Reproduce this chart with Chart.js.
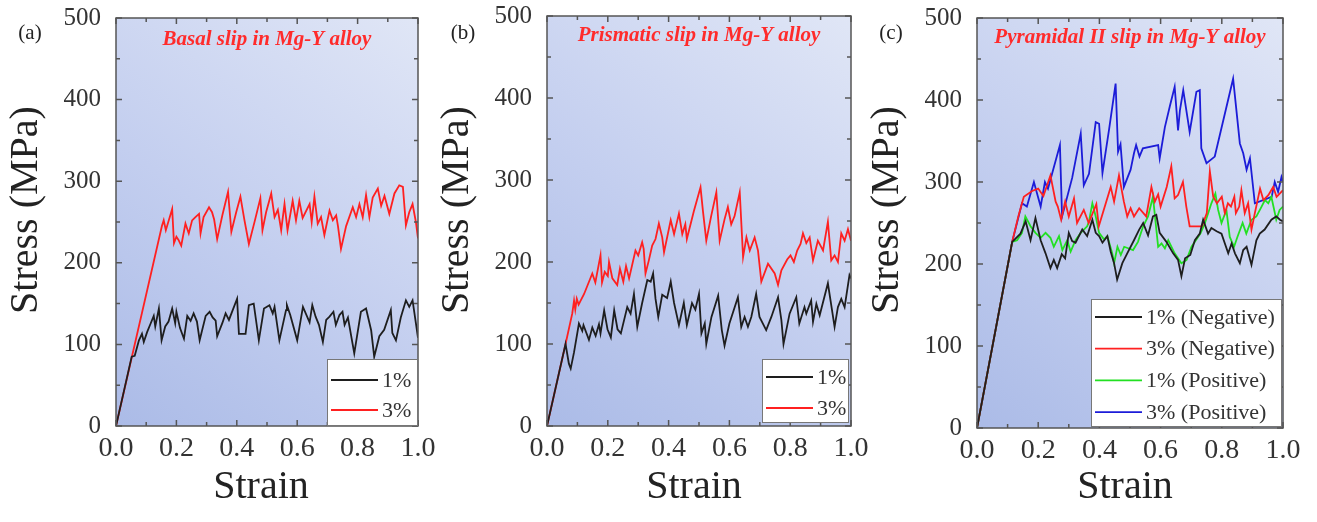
<!DOCTYPE html>
<html>
<head>
<meta charset="utf-8">
<script src="https://cdn.jsdelivr.net/npm/chart.js@4.4.0/dist/chart.umd.min.js"></script>
<style>
    html, body { margin: 0; padding: 0; background: #fff; }
    #wrap { position: relative; width: 1317px; height: 522px; overflow: hidden; }
    canvas { position: absolute; top: 0; }
</style>
</head>
<body>
<div id="wrap">
    <canvas id="chart_a" width="440" height="522" style="left:0px"></canvas>
    <canvas id="chart_b" width="439" height="522" style="left:431px"></canvas>
    <canvas id="chart_c" width="456" height="522" style="left:861px"></canvas>
</div>
<script>
// tick values
let strain_ticks = [0, 0.2, 0.4, 0.6, 0.8, 1.0];
let strain_minor = [0.1, 0.3, 0.5, 0.7, 0.9];
let stress_ticks = [0, 100, 200, 300, 400, 500];
let stress_minor = [50, 150, 250, 350, 450];

// (a) basal slip
let basal_strain_1 = [0, 0.052, 0.062, 0.076, 0.086, 0.092, 0.103, 0.114, 0.125, 0.13, 0.142, 0.151, 0.163, 0.174, 0.186, 0.196, 0.2, 0.212, 0.225, 0.236, 0.247, 0.257, 0.268, 0.277, 0.297, 0.31, 0.32, 0.33, 0.335, 0.352, 0.363, 0.374, 0.401, 0.407, 0.429, 0.44, 0.456, 0.473, 0.49, 0.508, 0.519, 0.525, 0.541, 0.563, 0.566, 0.577, 0.6, 0.619, 0.641, 0.65, 0.661, 0.672, 0.685, 0.696, 0.707, 0.72, 0.728, 0.74, 0.75, 0.757, 0.768, 0.789, 0.811, 0.828, 0.845, 0.855, 0.872, 0.888, 0.91, 0.915, 0.927, 0.943, 0.96, 0.971, 0.982, 0.993, 1.0];
let basal_stress_1 = [0, 85, 86, 105, 113, 103, 115, 125, 135, 122, 144, 105, 122, 128, 144, 126, 140, 120, 107, 135, 129, 138, 128, 105, 135, 140, 133, 129, 110, 126, 138, 130, 156, 113, 113, 148, 150, 105, 144, 148, 138, 146, 105, 142, 148, 136, 105, 146, 127, 148, 134, 124, 103, 130, 134, 140, 124, 136, 140, 124, 133, 89, 140, 144, 117, 85, 110, 118, 142, 114, 105, 133, 154, 146, 154, 126, 108];
let basal_strain_3 = [0, 0.152, 0.158, 0.165, 0.186, 0.192, 0.2, 0.207, 0.216, 0.23, 0.241, 0.252, 0.263, 0.275, 0.28, 0.29, 0.308, 0.318, 0.325, 0.335, 0.352, 0.371, 0.382, 0.398, 0.412, 0.425, 0.44, 0.46, 0.478, 0.485, 0.497, 0.514, 0.525, 0.536, 0.547, 0.558, 0.568, 0.585, 0.596, 0.607, 0.618, 0.641, 0.648, 0.657, 0.668, 0.679, 0.69, 0.707, 0.718, 0.729, 0.735, 0.745, 0.762, 0.784, 0.795, 0.806, 0.817, 0.828, 0.839, 0.85, 0.867, 0.878, 0.889, 0.905, 0.922, 0.938, 0.95, 0.96, 0.971, 0.982, 0.993, 1.0];
let basal_stress_3 = [0, 245, 252, 240, 266, 224, 232, 228, 221, 248, 236, 252, 256, 260, 236, 256, 268, 262, 253, 229, 258, 287, 238, 262, 281, 253, 223, 252, 279, 240, 262, 285, 256, 265, 240, 272, 240, 276, 252, 276, 255, 272, 250, 281, 248, 256, 234, 264, 252, 258, 245, 217, 245, 268, 256, 272, 256, 283, 256, 280, 291, 270, 282, 260, 285, 295, 293, 246, 262, 272, 250, 230];

// (b) prismatic slip
let prism_strain_1 = [0, 0.061, 0.072, 0.078, 0.089, 0.105, 0.116, 0.12, 0.138, 0.149, 0.16, 0.171, 0.176, 0.188, 0.199, 0.21, 0.221, 0.232, 0.243, 0.264, 0.275, 0.286, 0.297, 0.313, 0.33, 0.341, 0.349, 0.357, 0.366, 0.379, 0.395, 0.407, 0.418, 0.434, 0.45, 0.46, 0.477, 0.488, 0.5, 0.508, 0.519, 0.524, 0.541, 0.563, 0.575, 0.584, 0.6, 0.628, 0.639, 0.65, 0.661, 0.672, 0.688, 0.699, 0.721, 0.738, 0.76, 0.771, 0.778, 0.798, 0.82, 0.83, 0.847, 0.853, 0.869, 0.875, 0.886, 0.897, 0.924, 0.946, 0.957, 0.968, 0.979, 0.995, 1.0];
let prism_stress_1 = [0, 100, 76, 70, 90, 125, 116, 123, 105, 120, 110, 124, 113, 141, 118, 108, 141, 118, 113, 145, 137, 161, 121, 150, 178, 176, 186, 155, 133, 160, 156, 176, 150, 123, 150, 123, 150, 142, 161, 113, 125, 100, 133, 159, 117, 98, 125, 157, 121, 133, 121, 133, 161, 133, 117, 133, 157, 129, 100, 137, 157, 125, 145, 137, 153, 127, 149, 135, 174, 121, 145, 155, 145, 184, 180];
let prism_strain_3 = [0, 0.061, 0.083, 0.089, 0.093, 0.098, 0.104, 0.122, 0.149, 0.159, 0.176, 0.181, 0.19, 0.2, 0.204, 0.215, 0.231, 0.24, 0.251, 0.26, 0.27, 0.291, 0.3, 0.313, 0.318, 0.324, 0.335, 0.346, 0.357, 0.368, 0.379, 0.385, 0.407, 0.418, 0.434, 0.445, 0.455, 0.46, 0.483, 0.505, 0.513, 0.524, 0.54, 0.557, 0.568, 0.584, 0.595, 0.606, 0.617, 0.634, 0.645, 0.656, 0.667, 0.683, 0.694, 0.705, 0.727, 0.749, 0.76, 0.771, 0.79, 0.801, 0.812, 0.823, 0.834, 0.842, 0.853, 0.864, 0.875, 0.891, 0.908, 0.924, 0.935, 0.946, 0.957, 0.968, 0.979, 0.99, 1.0];
let prism_stress_3 = [0, 100, 137, 153, 142, 155, 148, 161, 186, 175, 208, 175, 188, 183, 200, 180, 172, 192, 176, 195, 180, 214, 208, 224, 216, 186, 202, 220, 228, 247, 230, 212, 251, 234, 259, 234, 246, 228, 262, 291, 262, 226, 256, 285, 226, 252, 267, 246, 256, 285, 206, 230, 214, 230, 214, 176, 198, 186, 172, 190, 203, 208, 200, 214, 222, 235, 223, 230, 202, 226, 214, 249, 202, 208, 200, 235, 226, 240, 226];

// (c) pyramidal II slip
let pyr_strain_1n = [0, 0.115, 0.142, 0.159, 0.175, 0.191, 0.208, 0.224, 0.24, 0.251, 0.262, 0.277, 0.288, 0.3, 0.311, 0.322, 0.344, 0.36, 0.377, 0.388, 0.399, 0.41, 0.426, 0.437, 0.448, 0.458, 0.475, 0.491, 0.513, 0.53, 0.543, 0.559, 0.575, 0.586, 0.597, 0.619, 0.641, 0.657, 0.668, 0.68, 0.697, 0.712, 0.728, 0.739, 0.755, 0.766, 0.783, 0.799, 0.821, 0.832, 0.843, 0.859, 0.87, 0.881, 0.897, 0.913, 0.924, 0.94, 0.962, 0.978, 0.99, 1.0];
let pyr_stress_1n = [0, 227, 237, 252, 229, 256, 229, 213, 195, 205, 195, 212, 207, 238, 228, 226, 242, 234, 254, 238, 234, 226, 234, 215, 201, 181, 201, 213, 229, 242, 250, 235, 258, 260, 238, 227, 213, 205, 185, 207, 211, 229, 237, 254, 237, 244, 240, 237, 213, 225, 213, 201, 217, 221, 199, 229, 237, 242, 254, 258, 254, 252];
let pyr_strain_3n = [0, 0.115, 0.135, 0.153, 0.18, 0.2, 0.217, 0.24, 0.257, 0.264, 0.275, 0.288, 0.3, 0.317, 0.327, 0.349, 0.365, 0.39, 0.398, 0.437, 0.448, 0.464, 0.48, 0.491, 0.502, 0.513, 0.53, 0.553, 0.57, 0.581, 0.592, 0.6, 0.62, 0.635, 0.646, 0.657, 0.673, 0.684, 0.695, 0.735, 0.751, 0.761, 0.772, 0.784, 0.8, 0.81, 0.82, 0.83, 0.841, 0.846, 0.857, 0.864, 0.875, 0.886, 0.897, 0.908, 0.925, 0.936, 0.952, 0.968, 0.979, 1.0];
let pyr_stress_3n = [0, 227, 258, 282, 289, 292, 283, 308, 276, 270, 254, 276, 258, 280, 250, 266, 250, 273, 246, 294, 276, 308, 276, 258, 268, 258, 268, 258, 294, 276, 285, 270, 294, 319, 280, 284, 300, 270, 246, 246, 262, 313, 282, 274, 282, 262, 274, 270, 282, 262, 270, 290, 262, 274, 242, 262, 292, 278, 284, 294, 282, 290];
let pyr_strain_1p = [0, 0.115, 0.131, 0.147, 0.158, 0.175, 0.191, 0.208, 0.224, 0.24, 0.251, 0.268, 0.279, 0.295, 0.306, 0.322, 0.339, 0.36, 0.366, 0.377, 0.388, 0.399, 0.415, 0.426, 0.442, 0.448, 0.459, 0.47, 0.481, 0.51, 0.526, 0.543, 0.559, 0.575, 0.592, 0.603, 0.614, 0.625, 0.646, 0.668, 0.685, 0.701, 0.73, 0.745, 0.766, 0.779, 0.788, 0.799, 0.815, 0.826, 0.84, 0.851, 0.868, 0.88, 0.897, 0.913, 0.93, 0.941, 0.952, 0.962, 0.978, 0.989, 1.0];
let pyr_stress_1p = [0, 227, 229, 238, 258, 246, 238, 232, 238, 232, 221, 234, 217, 229, 215, 229, 238, 246, 252, 274, 258, 238, 230, 234, 213, 201, 221, 211, 221, 217, 227, 246, 258, 282, 221, 225, 219, 229, 213, 201, 205, 221, 237, 250, 274, 286, 266, 250, 266, 233, 221, 233, 250, 237, 254, 258, 270, 278, 274, 282, 254, 266, 270];
let pyr_strain_3p = [0, 0.115, 0.147, 0.163, 0.186, 0.208, 0.222, 0.232, 0.246, 0.271, 0.278, 0.311, 0.339, 0.349, 0.366, 0.388, 0.399, 0.41, 0.432, 0.453, 0.461, 0.469, 0.48, 0.502, 0.513, 0.52, 0.531, 0.542, 0.592, 0.597, 0.614, 0.63, 0.646, 0.657, 0.663, 0.674, 0.695, 0.717, 0.728, 0.733, 0.75, 0.777, 0.837, 0.859, 0.87, 0.881, 0.892, 0.908, 0.963, 0.973, 0.984, 0.995, 1.0];
let pyr_stress_3p = [0, 227, 274, 270, 300, 270, 300, 292, 311, 345, 258, 305, 359, 296, 310, 373, 371, 311, 365, 420, 337, 346, 294, 315, 335, 345, 331, 341, 345, 329, 367, 392, 416, 363, 387, 412, 361, 410, 412, 341, 323, 331, 426, 347, 335, 315, 329, 274, 282, 300, 288, 306, 300];

function pointsOf(strain, stress) {
    return strain.map((x, i) => ({ x: x, y: stress[i] }));
}

function line(label, strain, stress, color) {
    return {
        label: label,
        data: pointsOf(strain, stress),
        borderColor: color,
        borderWidth: 1.8,
        pointRadius: 0,
        tension: 0,
        fill: false
    };
}

Chart.defaults.font.family = '"Liberation Serif", "Times New Roman", serif';
Chart.defaults.color = '#333';

let bgPlugin = {
    id: 'bg',
    beforeDatasetsDraw(chart) {
        let a = chart.chartArea;
        let ctx = chart.ctx;
        let g = ctx.createLinearGradient(a.left, a.bottom, a.right, a.top);
        g.addColorStop(0, '#abbbe7');
        g.addColorStop(0.45, '#c3ceef');
        g.addColorStop(1, '#e0e6f6');
        ctx.save();
        ctx.fillStyle = g;
        ctx.fillRect(a.left, a.top, a.right - a.left, a.bottom - a.top);
        ctx.restore();
    }
};

// box frame with inward ticks on all four sides
let framePlugin = {
    id: 'frame',
    afterDatasetsDraw(chart) {
        let a = chart.chartArea;
        let ctx = chart.ctx;
        let xs = chart.scales.x;
        let ys = chart.scales.y;
        ctx.save();
        ctx.strokeStyle = '#555';
        ctx.lineWidth = 1.5;
        ctx.beginPath();
        let tick = (vals, len) => {
            vals.forEach(v => {
                let px = xs.getPixelForValue(v);
                ctx.moveTo(px, a.bottom); ctx.lineTo(px, a.bottom - len);
                ctx.moveTo(px, a.top); ctx.lineTo(px, a.top + len);
            });
        };
        let ytick = (vals, len) => {
            vals.forEach(v => {
                let py = ys.getPixelForValue(v);
                ctx.moveTo(a.left, py); ctx.lineTo(a.left + len, py);
                ctx.moveTo(a.right, py); ctx.lineTo(a.right - len, py);
            });
        };
        tick(strain_ticks, 6);
        tick(strain_minor, 4);
        ytick(stress_ticks, 6);
        ytick(stress_minor, 4);
        ctx.stroke();
        ctx.strokeRect(a.left, a.top, a.right - a.left, a.bottom - a.top);
        ctx.restore();
    }
};

// panel letter, red caption and the two axis titles
let notesPlugin = {
    id: 'notes',
    afterDraw(chart, args, opts) {
        let a = chart.chartArea;
        let ctx = chart.ctx;
        ctx.save();
        ctx.textAlign = 'center';
        ctx.textBaseline = 'middle';
        ctx.fillStyle = '#222';
        ctx.font = '21px "Liberation Serif"';
        ctx.fillText(opts.panel, opts.panelX, 33);

        ctx.font = '40px "Liberation Serif"';
        ctx.fillText('Strain', opts.strainX, 487);
        ctx.save();
        ctx.translate(26, 210);
        ctx.rotate(-Math.PI / 2);
        ctx.fillText('Stress (MPa)', 0, 0);
        ctx.restore();

        ctx.fillStyle = '#ff2b2b';
        ctx.font = 'italic bold 21px "Liberation Serif"';
        ctx.fillText(opts.title, (a.left + a.right) / 2, opts.titleY);
        ctx.restore();
    }
};

let boxPlugin = {
    id: 'box',
    afterDraw(chart, args, opts) {
        let a = chart.chartArea;
        let ctx = chart.ctx;
        let x0 = a.right - opts.right - opts.w;
        let y0 = a.bottom - opts.bottom - opts.h;
        ctx.save();
        ctx.fillStyle = '#fff';
        ctx.fillRect(x0, y0, opts.w, opts.h);
        ctx.strokeStyle = '#777';
        ctx.lineWidth = 1;
        ctx.strokeRect(x0 + 0.5, y0 + 0.5, opts.w, opts.h);
        ctx.font = '22px "Liberation Serif"';
        ctx.textBaseline = 'middle';
        ctx.textAlign = 'left';
        chart.data.datasets.forEach((ds, i) => {
            let y = y0 + opts.first + i * opts.gap;
            ctx.strokeStyle = ds.borderColor;
            ctx.lineWidth = 1.8;
            ctx.beginPath();
            ctx.moveTo(x0 + 4, y);
            ctx.lineTo(x0 + 51, y);
            ctx.stroke();
            ctx.fillStyle = '#333';
            ctx.fillText(ds.label, x0 + 55, y + 1);
        });
        ctx.restore();
    }
};

function makePanel(id, datasets, p) {
    let ctx = document.getElementById(id);
    return new Chart(ctx, {
        type: 'line',
        data: { datasets: datasets },
        options: {
            responsive: false,
            animation: false,
            layout: { padding: { left: 0, right: p.padRight, top: p.padTop, bottom: 0 } },
            scales: {
                x: {
                    type: 'linear',
                    min: 0,
                    max: 1,
                    afterBuildTicks: s => { s.ticks = strain_ticks.map(v => ({ value: v })); },
                    afterFit: s => {
                        s.height = p.xHeight;
                        s.paddingLeft = 0;
                        s.paddingRight = 0;
                    },
                    grid: { display: false, drawTicks: false },
                    border: { display: false },
                    ticks: {
                        padding: 6,
                        font: { size: 28 },
                        color: '#333',
                        maxRotation: 0,
                        callback: v => v.toFixed(1)
                    }
                },
                y: {
                    type: 'linear',
                    min: 0,
                    max: 500,
                    afterBuildTicks: s => { s.ticks = stress_ticks.map(v => ({ value: v })); },
                    afterFit: s => {
                        s.width = 116;
                        s.paddingTop = 0;
                        s.paddingBottom = 0;
                    },
                    grid: { display: false, drawTicks: false },
                    border: { display: false },
                    ticks: {
                        padding: 15,
                        font: { size: 25 },
                        color: '#333'
                    }
                }
            },
            plugins: {
                legend: { display: false },
                tooltip: { enabled: false },
                notes: { panel: p.panel, panelX: p.panelX, strainX: p.strainX, title: p.title, titleY: p.titleY },
                box: p.box
            }
        },
        plugins: [bgPlugin, framePlugin, notesPlugin, boxPlugin]
    });
}

makePanel('chart_a', [
    line('1%', basal_strain_1, basal_stress_1, '#1e1e1e'),
    line('3%', basal_strain_3, basal_stress_3, '#ff2020')
], {
    padRight: 22, padTop: 18, xHeight: 96,
    panel: '(a)', panelX: 30, strainX: 261, title: 'Basal slip in Mg-Y alloy', titleY: 40,
    box: { w: 90, h: 66, right: 1, bottom: 1, first: 21, gap: 30 }
});

makePanel('chart_b', [
    line('1%', prism_strain_1, prism_stress_1, '#1e1e1e'),
    line('3%', prism_strain_3, prism_stress_3, '#ff2020')
], {
    padRight: 19, padTop: 16, xHeight: 96,
    panel: '(b)', panelX: 32, strainX: 263, title: 'Prismatic slip in Mg-Y alloy', titleY: 36,
    box: { w: 86, h: 63, right: 3, bottom: 4, first: 18, gap: 31 }
});

makePanel('chart_c', [
    line('1% (Negative)', pyr_strain_1n, pyr_stress_1n, '#1e1e1e'),
    line('3% (Negative)', pyr_strain_3n, pyr_stress_3n, '#ff2020'),
    line('1% (Positive)', pyr_strain_1p, pyr_stress_1p, '#22e022'),
    line('3% (Positive)', pyr_strain_3p, pyr_stress_3p, '#1c1cd8')
], {
    padRight: 34, padTop: 18, xHeight: 94,
    panel: '(c)', panelX: 30, strainX: 264, title: 'Pyramidal II slip in Mg-Y alloy', titleY: 38,
    box: { w: 190, h: 127, right: 2, bottom: 2, first: 18, gap: 31.7 }
});
</script>
</body>
</html>
